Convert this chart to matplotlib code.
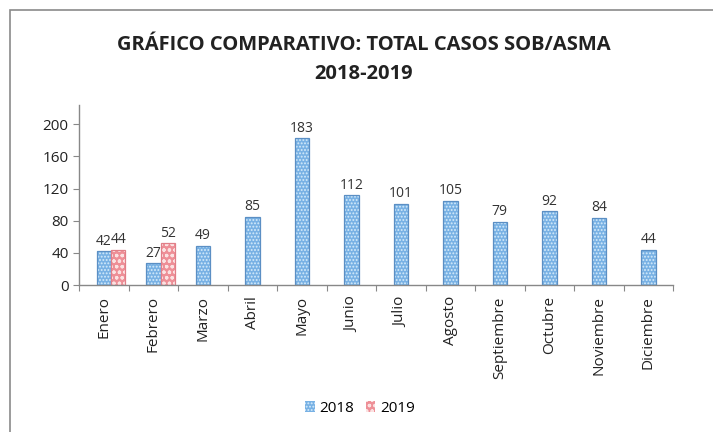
import matplotlib
matplotlib.use("Agg")
import matplotlib.pyplot as plt
from matplotlib.patches import Rectangle
import numpy as np

plt.rcParams['font.family'] = ['Open Sans', 'DejaVu Sans']
plt.rcParams['hatch.linewidth'] = 0.9

meses = ["Enero", "Febrero", "Marzo", "Abril", "Mayo", "Junio", "Julio",
         "Agosto", "Septiembre", "Octubre", "Noviembre", "Diciembre"]
casos_2018 = [42, 27, 49, 85, 183, 112, 101, 105, 79, 92, 84, 44]
casos_2019 = [44, 52]

fig = plt.figure(figsize=(7.13, 4.32), dpi=100)
ax = fig.add_axes([0.111, 0.340, 0.833, 0.417])

x = np.arange(len(meses))
w = 0.29
x19 = x[:len(casos_2019)] + w


def patterned_bars(xs, vals, face, pattern, dots, edge, label):
    # fill + light pattern first, then a plain outline on top
    ax.bar(xs, vals, width=w, color=face, edgecolor=dots, hatch=pattern, linewidth=0)
    return ax.bar(xs, vals, width=w, fill=False, edgecolor=edge, linewidth=0.9,
                  label=label)


b18 = patterned_bars(x, casos_2018, "#78b1e4", ".....", "#d6ecfb", "#5b8fc4", "2018")
b19 = patterned_bars(x19, casos_2019, "#ee8f97", "ooo", "#fbe2e2", "#e07f88", "2019")

for xi, v in zip(x, casos_2018):
    ax.text(xi, v + 3, str(v), ha="center", va="bottom", fontsize=10, color="#333333")
for xi, v in zip(x19, casos_2019):
    ax.text(xi, v + 3, str(v), ha="center", va="bottom", fontsize=10, color="#333333")

ax.set_xlim(-0.5, len(meses) - 0.5)
ax.set_ylim(0, 224)
ax.set_yticks(range(0, 201, 40))
ax.set_xticks(np.arange(-0.5, len(meses), 1.0))
ax.set_xticklabels([])
ax.set_xticks(x, minor=True)
ax.set_xticklabels(meses, minor=True, rotation=90, fontsize=11, color="#222222")
ax.tick_params(axis="x", which="minor", length=0, pad=8)
ax.tick_params(axis="x", which="major", length=4, color="#888888")
ax.tick_params(axis="y", length=4, color="#888888", labelsize=11, labelcolor="#222222")

for s in ["top", "right"]:
    ax.spines[s].set_visible(False)
for s in ["left", "bottom"]:
    ax.spines[s].set_color("#888888")
    ax.spines[s].set_linewidth(1.0)

fig.text(0.51, 0.895, "GRÁFICO COMPARATIVO: TOTAL CASOS SOB/ASMA",
         ha="center", va="center", fontsize=14.5, fontweight="bold", color="#222222")
fig.text(0.51, 0.828, "2018-2019", ha="center", va="center",
         fontsize=14.5, fontweight="bold", color="#222222")

h18 = Rectangle((0, 0), 1, 1, facecolor="#78b1e4", edgecolor="#d6ecfb", hatch=".....", linewidth=0)
h19 = Rectangle((0, 0), 1, 1, facecolor="#ee8f97", edgecolor="#fbe2e2", hatch="ooo", linewidth=0)
fig.legend(handles=[h18, h19], labels=["2018", "2019"], loc="center",
           bbox_to_anchor=(0.505, 0.055), ncol=2, frameon=False, fontsize=11,
           handlelength=0.6, handleheight=0.8, handletextpad=0.3, columnspacing=0.8)

fig.add_artist(Rectangle((10 / 713, -0.05), 1.2, 1 - 10 / 432 + 0.05,
                         transform=fig.transFigure, fill=False,
                         edgecolor="#8a8a8a", linewidth=1.2))

fig.savefig("out.png", dpi=100)
